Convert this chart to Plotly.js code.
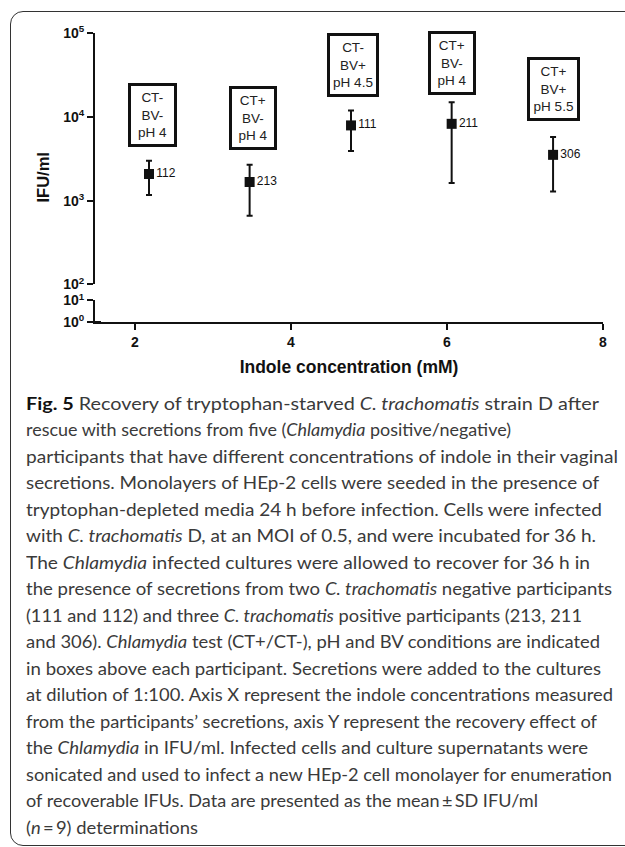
<!DOCTYPE html>
<html>
<head>
<meta charset="utf-8">
<script src="https://cdn.plot.ly/plotly-3.0.1.min.js"></script>
<style>
  html, body { margin: 0; padding: 0; background: #fff; }
  #wrap { position: relative; width: 625px; height: 847px; overflow: hidden; }
  #chart { position: absolute; left: 0; top: 0; width: 625px; height: 847px; }
  #frame { position: absolute; left: 10px; top: 11px; width: 700px; height: 835px;
           border: 1.5px solid #333; border-radius: 13px; pointer-events: none; box-sizing: border-box; }
  .cap { position: absolute; left: 26px; white-space: nowrap; font-family: Lato, "Open Sans", sans-serif;
         font-size: 16.5px; line-height: 26.5px; color: #3a3a3a; transform-origin: 0 50%; }
  .cap b { color: #111; font-weight: 700; }
</style>
</head>
<body>
<div id="wrap">
  <div id="chart"></div>
  <div id="frame"></div>
  <div id="caption"></div>
</div>
<script>
// ---- data ----
const indole = [2.18, 3.47, 4.77, 6.06, 7.36];          // mM
const ifuMean = [2080, 1670, 7900, 8250, 3520];          // IFU/ml
const ifuSD = [910, 1010, 3980, 6630, 2230];             // SD
const participants = ['112', '213', '111', '211', '306'];
const ctStatus = ['CT-', 'CT+', 'CT-', 'CT+', 'CT+'];
const bvStatus = ['BV-', 'BV-', 'BV+', 'BV-', 'BV+'];
const phStatus = ['pH 4', 'pH 4', 'pH 4.5', 'pH 4', 'pH 5.5'];
const xTickVals = [2, 4, 6, 8];
const yTickVals = [100, 1000, 10000, 100000];
const yTickText = ['10<sup>2</sup>', '10<sup>3</sup>', '10<sup>4</sup>', '10<sup>5</sup>'];
const yBreakTickVals = [1, 10];
const yBreakTickText = ['10<sup>0</sup>', '10<sup>1</sup>'];

// ---- layout constants (positions of the condition boxes) ----
const boxYExp = [4.016, 3.988, 4.615, 4.639, 4.328];
const boxDx = [4, 3.5, 2, 0, 0];
const boxW = [37, 36, 40, 36, 41];

const captionLines = [
  '<b>Fig. 5</b> Recovery of tryptophan-starved <i>C. trachomatis</i> strain D after',
  'rescue with secretions from five (<i>Chlamydia</i> positive/negative)',
  'participants that have different concentrations of indole in their vaginal',
  'secretions. Monolayers of HEp-2 cells were seeded in the presence of',
  'tryptophan-depleted media 24 h before infection. Cells were infected',
  'with <i>C. trachomatis</i> D, at an MOI of 0.5, and were incubated for 36 h.',
  'The <i>Chlamydia</i> infected cultures were allowed to recover for 36 h in',
  'the presence of secretions from two <i>C. trachomatis</i> negative participants',
  '(111 and 112) and three <i>C. trachomatis</i> positive participants (213, 211',
  'and 306). <i>Chlamydia</i> test (CT+/CT-), pH and BV conditions are indicated',
  'in boxes above each participant. Secretions were added to the cultures',
  'at dilution of 1:100. Axis X represent the indole concentrations measured',
  'from the participants\u2019 secretions, axis Y represent the recovery effect of',
  'the <i>Chlamydia</i> in IFU/ml. Infected cells and culture supernatants were',
  'sonicated and used to infect a new HEp-2 cell monolayer for enumeration',
  'of recoverable IFUs. Data are presented as the mean\u2009\u00b1\u2009SD IFU/ml',
  '(<i>n</i>\u2009=\u20099) determinations'
];
const captionRight = [599, 511, 618, 599, 602, 596, 590, 612, 582, 600, 601, 613, 597, 588, 612, 538, 198];

const FONT = 'Liberation Sans, Arial, sans-serif';
const INK = '#111';

const trace = {
  type: 'scatter',
  mode: 'markers+text',
  x: indole,
  y: ifuMean,
  xaxis: 'x',
  yaxis: 'y',
  text: participants,
  textposition: 'middle right',
  textfont: { family: FONT, size: 12, color: INK },
  marker: { symbol: 'square', size: 10, color: INK },
  error_y: { type: 'data', array: ifuSD, visible: true, color: INK, thickness: 2, width: 3 },
  cliponaxis: false,
  hoverinfo: 'x+y'
};

const annotations = indole.map((xv, i) => ({
  x: xv, y: boxYExp[i], xref: 'x', yref: 'y', xshift: boxDx[i],
  text: ctStatus[i] + '<br>' + bvStatus[i] + '<br>' + phStatus[i],
  showarrow: false, align: 'center', valign: 'middle',
  width: boxW[i], height: 52,
  bordercolor: INK, borderwidth: 3, borderpad: 3, bgcolor: '#fff',
  font: { family: FONT, size: 13.5, color: '#222' }
}));

annotations.push({
  xref: 'paper', yref: 'paper', x: (42 - 95) / 508, y: (322 - 177.5) / 289,
  xanchor: 'center', yanchor: 'middle',
  text: 'IFU/ml', textangle: -90, showarrow: false,
  font: { family: FONT, size: 16.5, color: INK, weight: 'bold' }
});

const axisCommon = {
  showline: true, linewidth: 2, linecolor: INK,
  ticks: 'outside', ticklen: 6, tickwidth: 2, tickcolor: INK,
  showgrid: false, zeroline: false,
  tickfont: { family: FONT, size: 14, color: INK, weight: 'bold' }
};

const layout = {
  width: 625, height: 847,
  margin: { l: 95, r: 22, t: 33, b: 525 },
  paper_bgcolor: '#fff', plot_bgcolor: '#fff',
  showlegend: false,
  xaxis: Object.assign({}, axisCommon, {
    range: [1.488, 8], anchor: 'y2', tickvals: xTickVals,
    title: { text: 'Indole concentration (mM)', standoff: 12,
             font: { family: FONT, size: 17.5, color: INK, weight: 'bold' } }
  }),
  yaxis: Object.assign({}, axisCommon, {
    type: 'log', range: [2, 5], domain: [0.1298, 1], anchor: 'x',
    tickvals: yTickVals, ticktext: yTickText
  }),
  yaxis2: Object.assign({}, axisCommon, {
    type: 'log', range: [0, 1], domain: [0, 0.0744], anchor: 'x',
    tickvals: yBreakTickVals, ticktext: yBreakTickText
  }),
  annotations: annotations,
  shapes: [
    { type: 'line', xref: 'paper', yref: 'y', x0: 0, x1: 6 / 508, y0: 2, y1: 2, line: { color: INK, width: 2 } },
    { type: 'line', xref: 'paper', yref: 'y2', x0: 0, x1: 6 / 508, y0: 1, y1: 1, line: { color: INK, width: 2 } }
  ]
};

Plotly.newPlot('chart', [trace], layout, { displayModeBar: false, staticPlot: true });

// caption
const cap = document.getElementById('caption');
captionLines.forEach((ln, i) => {
  const d = document.createElement('div');
  d.className = 'cap';
  d.style.top = (390.75 + i * 26.5) + 'px';
  d.innerHTML = ln;
  cap.appendChild(d);
  const w = d.getBoundingClientRect().width;
  const target = captionRight[i] - 26;
  d.style.transform = 'scaleX(' + (target / w).toFixed(4) + ')';
});
</script>
</body>
</html>
